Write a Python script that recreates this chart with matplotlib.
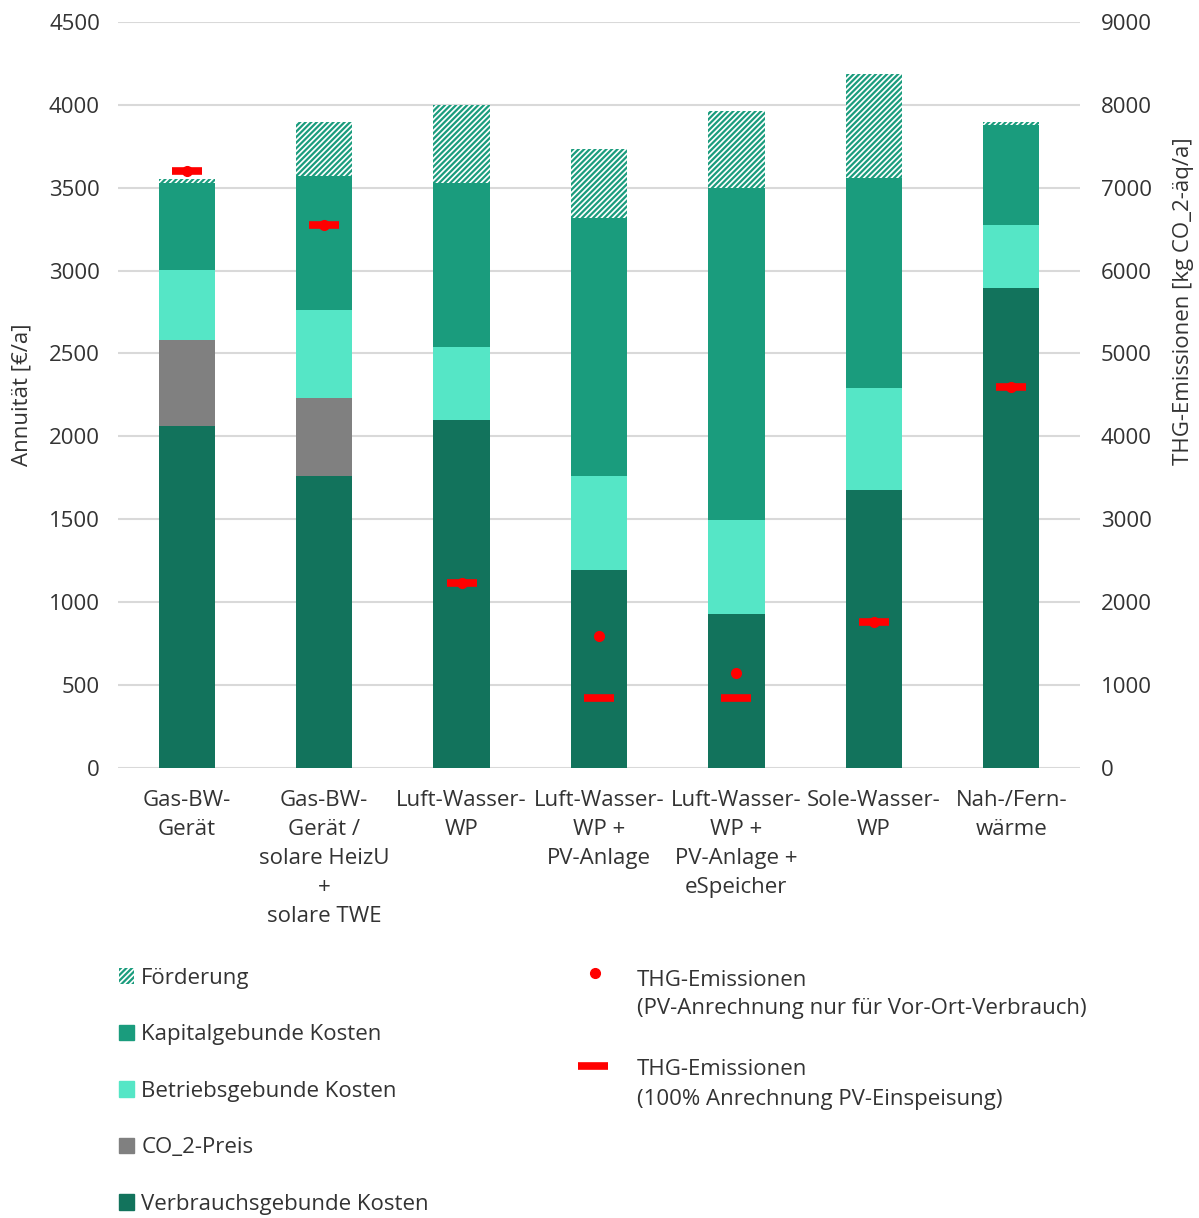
import matplotlib.pyplot as plt
from matplotlib.patches import Patch
from matplotlib.lines import Line2D

plt.rcParams['font.family'] = ['Open Sans', 'DejaVu Sans']
plt.rcParams['hatch.linewidth'] = 1.6

categories = ['Gas-BW-\nGerät', 'Gas-BW-\nGerät /\nsolare HeizU\n+\nsolare TWE',
              'Luft-Wasser-\nWP', 'Luft-Wasser-\nWP +\nPV-Anlage',
              'Luft-Wasser-\nWP +\nPV-Anlage +\neSpeicher', 'Sole-Wasser-\nWP',
              'Nah-/Fern-\nwärme']

# cost components in €/a, stacked bottom to top
verbrauch = [2063, 1761, 2099, 1194, 929, 1677, 2895]
co2_preis = [519, 471, 0, 0, 0, 0, 0]
betrieb = [422, 531, 441, 567, 567, 615, 380]
kapital = [525, 808, 989, 1557, 2003, 1267, 604]
foerderung = [24, 326, 470, 416, 464, 627, 18]

# emissions in kg CO2-eq/a (right axis)
thg_vor_ort = [7202, 6551, 2232, 1592, 1146, 1761, 4596]
thg_100 = [7202, 6551, 2232, 845, 845, 1761, 4596]

c_verbrauch = '#12735c'
c_co2 = '#808080'
c_betrieb = '#55e6c6'
c_kapital = '#1a9c7d'
c_red = '#ff0000'
c_text = '#333333'
fs = 16

fig = plt.figure(figsize=(11.99, 12.18), dpi=100)
ax = fig.add_axes([0.0984, 0.3695, 0.8023, 0.6125])
ax2 = ax.twinx()

x = list(range(len(categories)))
w = 0.41
bottom = [0] * len(x)
for vals, col in [(verbrauch, c_verbrauch), (co2_preis, c_co2),
                  (betrieb, c_betrieb), (kapital, c_kapital)]:
    ax.bar(x, vals, w, bottom=bottom, color=col, lw=0, zorder=3)
    bottom = [b + v for b, v in zip(bottom, vals)]
ax.bar(x, foerderung, w, bottom=bottom, facecolor='white', edgecolor=c_kapital,
       hatch='//////', lw=0, zorder=3)

ax.set_xlim(-0.5, 6.5)
ax.set_ylim(0, 4500)
ax.set_yticks(range(0, 4501, 500))
ax.grid(axis='y', color='#d9d9d9', lw=1.5, zorder=0)
ax.set_xticks(x)
ax.set_xticklabels(categories, linespacing=1.5)
ax.set_ylabel('Annuität [€/a]', fontsize=fs, color=c_text)
ax.yaxis.set_label_coords(-0.089, 0.5)

ax2.set_ylim(0, 9000)
ax2.set_yticks(range(0, 9001, 1000))
ax2.set_ylabel('THG-Emissionen [kg CO_2-äq/a]', fontsize=fs, color=c_text)
ax2.yaxis.set_label_coords(1.097, 0.626)
ax2.plot(x, thg_vor_ort, 'o', color=c_red, ms=7, zorder=5)
ax2.plot(x, thg_100, '_', color=c_red, ms=21, mew=5.5, zorder=6)

for a in (ax, ax2):
    for s in a.spines.values():
        s.set_visible(False)
    a.tick_params(length=0, labelsize=fs, labelcolor=c_text)
ax.tick_params(axis='y', pad=13)
ax2.tick_params(axis='y', pad=15)
ax.tick_params(axis='x', pad=16)

left_handles = [
    Patch(facecolor='white', edgecolor=c_kapital, hatch='//////', lw=0),
    Patch(color=c_kapital), Patch(color=c_betrieb),
    Patch(color=c_co2), Patch(color=c_verbrauch),
]
left_labels = ['Förderung', 'Kapitalgebunde Kosten', 'Betriebsgebunde Kosten',
               'CO_2-Preis', 'Verbrauchsgebunde Kosten']
fig.legend(left_handles, left_labels, loc='upper left', bbox_to_anchor=(0.0825, 0.222),
           frameon=False, fontsize=fs, handlelength=0.7, handleheight=0.7,
           handletextpad=0.3, labelspacing=1.6, labelcolor=c_text)

# emission key, marker aligned with the first text line
fig.add_artist(Line2D([0.4963], [0.2011], ls='none', marker='o', color=c_red, ms=7,
                      transform=fig.transFigure))
fig.add_artist(Line2D([0.4946], [0.1248], ls='none', marker='_', color=c_red, ms=21,
                      mew=5.5, transform=fig.transFigure))
key_lines = [('THG-Emissionen', 0.1954),
             ('(PV-Anrechnung nur für Vor-Ort-Verbrauch)', 0.1716),
             ('THG-Emissionen', 0.1223),
             ('(100% Anrechnung PV-Einspeisung)', 0.0977)]
for txt, yy in key_lines:
    fig.text(0.5313, yy, txt, fontsize=fs, color=c_text, va='center', ha='left')

fig.savefig('out.png', dpi=100, facecolor='white')
